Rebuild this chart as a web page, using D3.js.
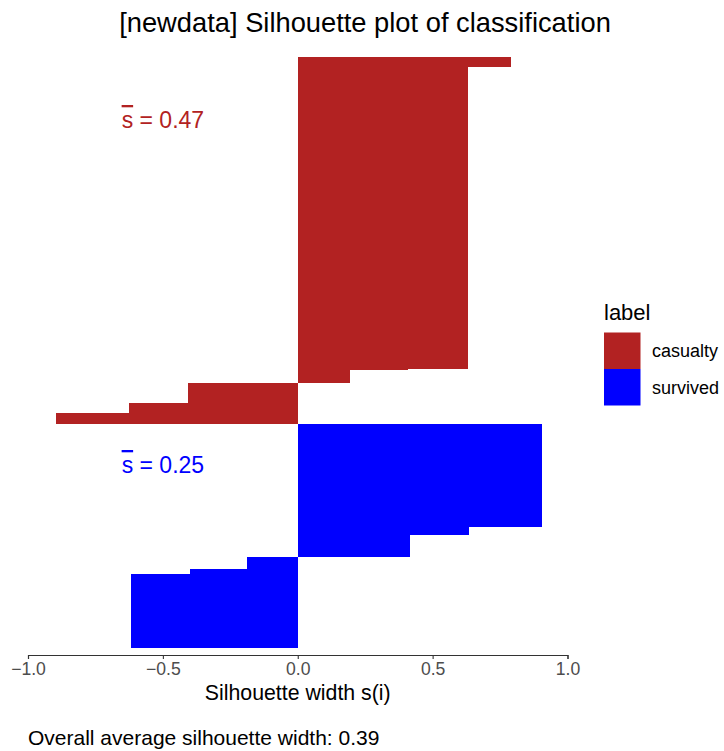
<!DOCTYPE html>
<meta charset="utf-8">
<script src="https://d3js.org/d3.v7.min.js"></script>
<style>
  body { margin: 0; background: #fff; }
  svg text { font-family: "Liberation Sans", Arial, Helvetica, sans-serif; }
</style>
<div id="my_dataviz"></div>
<script>
  // groups of observations with the same silhouette width, in plot order
  var groupLabel = ["casualty", "casualty", "casualty", "casualty", "casualty", "casualty", "casualty",
                    "survived", "survived", "survived", "survived", "survived", "survived"];
  var groupWidth = [0.79, 0.63, 0.407, 0.193, -0.407, -0.625, -0.896,
                    0.904, 0.634, 0.415, -0.187, -0.40, -0.62];
  var groupCount = [6, 189, 1, 8, 13, 6, 7,
                    64, 5, 14, 8, 3, 46];

  var labels = ["casualty", "survived"];
  var labelColors = ["#B22222", "#0000FF"];
  var clusterAvg = ["0.47", "0.25"];
  var xTicks = [-1.0, -0.5, 0.0, 0.5, 1.0];
  var overallAvg = "0.39";

  var W = 724, H = 751;
  var svg = d3.select("#my_dataviz")
    .append("svg")
    .attr("width", W)
    .attr("height", H);

  // build one row per observation from the grouped arrays
  var rows = [];
  groupWidth.forEach(function (w, g) {
    for (var k = 0; k < groupCount[g]; k++) {
      rows.push({ label: groupLabel[g], width: w });
    }
  });
  rows.forEach(function (d, i) { d.index = i; });

  var x = d3.scaleLinear()
    .domain([-1, 1])
    .range([28, 567.5]);

  var y = d3.scaleLinear()
    .domain([0, rows.length])
    .range([57, 647.7]);

  var color = d3.scaleOrdinal()
    .domain(labels)
    .range(labelColors);

  // bars (one per observation)
  svg.append("g")
    .selectAll("rect")
    .data(rows)
    .enter()
    .append("rect")
    .attr("x", function (d) { return x(Math.min(0, d.width)); })
    .attr("width", function (d) { return Math.abs(x(d.width) - x(0)); })
    .attr("y", function (d) { return y(d.index); })
    .attr("height", function (d) { return y(d.index + 1) - y(d.index) + 0.3; })
    .attr("fill", function (d) { return color(d.label); })
    .attr("shape-rendering", "crispEdges");

  // x axis
  var axis = svg.append("g")
    .attr("transform", "translate(0,655)")
    .call(d3.axisBottom(x)
      .tickValues(xTicks)
      .tickSize(4)
      .tickPadding(3)
      .tickFormat(function (d) { return d3.format(".1f")(d).replace("-", "\u2212"); }));
  axis.select(".domain").attr("stroke", "#333333").attr("stroke-width", 1.1);
  axis.selectAll(".tick line").attr("stroke", "#333333").attr("stroke-width", 1.1);
  axis.selectAll(".tick text")
    .attr("fill", "#4D4D4D")
    .attr("dy", null)
    .attr("y", 20)
    .style("font-size", "17.6px")
    .style("font-family", "'Liberation Sans', Arial, sans-serif");

  // axis title
  svg.append("text")
    .attr("x", (x(-1) + x(1)) / 2)
    .attr("y", 700)
    .attr("text-anchor", "middle")
    .style("font-size", "21.3px")
    .attr("fill", "#000")
    .text("Silhouette width s(i)");

  // caption
  svg.append("text")
    .attr("x", 28)
    .attr("y", 745)
    .style("font-size", "21px")
    .attr("fill", "#000")
    .text("Overall average silhouette width: " + overallAvg);

  // title
  svg.append("text")
    .attr("x", 365)
    .attr("y", 31.5)
    .attr("text-anchor", "middle")
    .style("font-size", "27.3px")
    .attr("fill", "#000")
    .text("[newdata] Silhouette plot of classification");

  // cluster average annotations
  var annotY = [120, 465];
  labels.forEach(function (lab, i) {
    var t = svg.append("text")
      .attr("x", x(-0.5))
      .attr("y", annotY[i] + 8)
      .attr("text-anchor", "middle")
      .style("font-size", "23px")
      .attr("fill", labelColors[i]);
    t.append("tspan")
      .style("text-decoration", "overline")
      .text("s");
    t.append("tspan").text(" = " + clusterAvg[i]);
  });

  // legend
  var legend = svg.append("g").attr("transform", "translate(604,0)");
  legend.append("text")
    .attr("x", 0)
    .attr("y", 320)
    .style("font-size", "22px")
    .attr("fill", "#000")
    .text("label");
  legend.selectAll("rect.key")
    .data(labels)
    .enter()
    .append("rect")
    .attr("class", "key")
    .attr("x", 0)
    .attr("y", function (d, i) { return 332.5 + i * 36.5; })
    .attr("width", 36.5)
    .attr("height", 36.5)
    .attr("fill", function (d) { return color(d); });
  legend.selectAll("text.lab")
    .data(labels)
    .enter()
    .append("text")
    .attr("class", "lab")
    .attr("x", 48)
    .attr("y", function (d, i) { return 351 + i * 36.5; })
    .attr("dy", "0.35em")
    .style("font-size", "18px")
    .attr("fill", "#000")
    .text(function (d) { return d; });
</script>
